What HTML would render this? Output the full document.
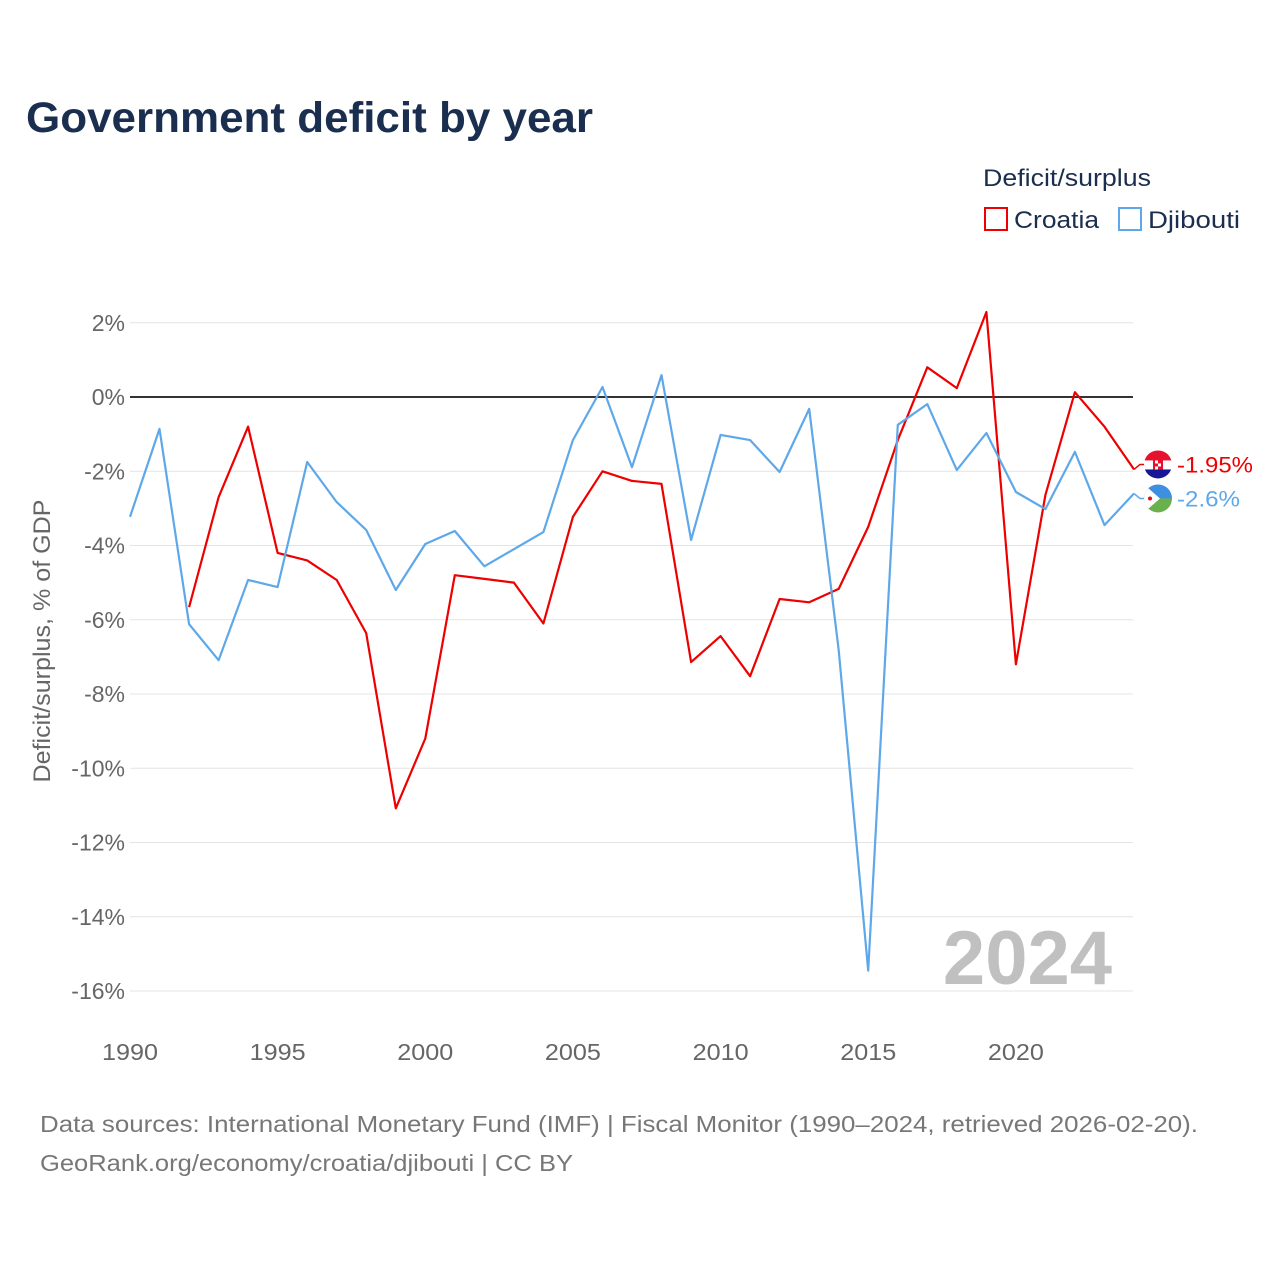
<!DOCTYPE html>
<html><head><meta charset="utf-8">
<style>
html,body{margin:0;padding:0;background:#fff;}
body{width:1280px;height:1280px;overflow:hidden;font-family:"Liberation Sans",sans-serif;}
</style></head>
<body>
<svg width="1280" height="1280" xmlns="http://www.w3.org/2000/svg" style="font-family:'Liberation Sans',sans-serif">
<defs>
<clipPath id="cf1"><circle cx="1158" cy="0" r="14" id="cc1"/></clipPath>
<clipPath id="cf2"><circle cx="1158" cy="0" r="14" id="cc2"/></clipPath>
</defs>
<text x="26" y="132" font-size="43" font-weight="bold" fill="#1a2e4f" textLength="567" lengthAdjust="spacingAndGlyphs">Government deficit by year</text>
<text x="983" y="186" font-size="24" fill="#1a2e4f" textLength="168" lengthAdjust="spacingAndGlyphs">Deficit/surplus</text>
<g><rect x="985" y="208" width="22" height="22" fill="none" stroke="#ee0000" stroke-width="2"/><text x="1014" y="228" font-size="24" fill="#1a2e4f" textLength="85" lengthAdjust="spacingAndGlyphs">Croatia</text></g>
<g><rect x="1119" y="208" width="22" height="22" fill="none" stroke="#5ea8ea" stroke-width="2"/><text x="1148" y="228" font-size="24" fill="#1a2e4f" textLength="92" lengthAdjust="spacingAndGlyphs">Djibouti</text></g>
<g id="grid"></g><g id="xt"></g><g id="lines"></g>
<text transform="translate(50,641) rotate(-90)" text-anchor="middle" font-size="24" fill="#666" textLength="283" lengthAdjust="spacingAndGlyphs">Deficit/surplus, % of GDP</text>
<text x="1112" y="984" text-anchor="end" font-size="76" font-weight="bold" fill="#c0c0c0">2024</text>
<text x="40" y="1132" font-size="23" fill="#777" textLength="1158" lengthAdjust="spacingAndGlyphs">Data sources: International Monetary Fund (IMF) | Fiscal Monitor (1990–2024, retrieved 2026-02-20).</text>
<text x="40" y="1171" font-size="23" fill="#777" textLength="533" lengthAdjust="spacingAndGlyphs">GeoRank.org/economy/croatia/djibouti | CC BY</text>
</svg>
<script>
const years=[];for(let y=1990;y<=2024;y++)years.push(y);
const croatia=[null,null,-5.66,-2.7,-0.8,-4.2,-4.4,-4.93,-6.36,-11.08,-9.2,-4.8,-4.9,-5.0,-6.1,-3.23,-2.0,-2.26,-2.34,-7.14,-6.44,-7.52,-5.44,-5.53,-5.17,-3.5,-1.16,0.8,0.24,2.29,-7.2,-2.64,0.13,-0.8,-1.95];
const djibouti=[-3.23,-0.86,-6.12,-7.09,-4.93,-5.12,-1.75,-2.83,-3.58,-5.2,-3.96,-3.61,-4.56,-4.1,-3.64,-1.16,0.27,-1.89,0.59,-3.85,-1.02,-1.16,-2.02,-0.32,-6.82,-15.45,-0.75,-0.19,-1.97,-0.97,-2.56,-3.02,-1.48,-3.45,-2.6];
const yTicks=[2,0,-2,-4,-6,-8,-10,-12,-14,-16];
const xTicks=[1990,1995,2000,2005,2010,2015,2020];
const NS="http://www.w3.org/2000/svg";
const X=y=>130+(y-1990)*(1134-130)/34;
const Y=v=>397-v*37.125;
function mk(t,a,p){const e=document.createElementNS(NS,t);for(const k in a)e.setAttribute(k,a[k]);p.appendChild(e);return e;}
const g=document.getElementById('grid');
yTicks.forEach(v=>{
 const l=mk('line',{x1:130,x2:1133,y1:Y(v),y2:Y(v),stroke:v===0?'#333':'#e4e4e4','stroke-width':v===0?2:1},g);
 
 
 const t=mk('text',{x:125,y:Y(v)+8,'text-anchor':'end','font-size':23,fill:'#666'},g);
 t.textContent=v+'%';
 
 
});
const xt=document.getElementById('xt');
xTicks.forEach(v=>{
 const t=mk('text',{x:X(v),y:1060,'text-anchor':'middle','font-size':23,fill:'#666',textLength:56,lengthAdjust:'spacingAndGlyphs'},xt);
 t.textContent=v;
 
 
});
const L=document.getElementById('lines');
// label layout: separate end labels if overlapping
let ya=Y(croatia[croatia.length-1]), yb=Y(djibouti[djibouti.length-1]);
let la=ya, lb=yb;
if(Math.abs(la-lb)<34){const m=(la+lb)/2;const s=la<lb?-1:1;la=m+s*17;lb=m-s*17;}
function series(vals,color,name,label,tl,clip,cc,cy){
 let d='';vals.forEach((v,i)=>{if(v===null)return;d+=(d?'L':'M')+X(years[i]).toFixed(1)+','+Y(v).toFixed(1);});
 const p=mk('path',{d:d,fill:'none',stroke:color,'stroke-width':2.2,'stroke-linejoin':'round'},L);
 
 
 const last=vals[vals.length-1];const py=Y(last);
 mk('polyline',{points:`1134,${py} 1140,${cy} 1146,${cy}`,fill:'none',stroke:color,'stroke-width':1.5},L);
 document.getElementById(cc).setAttribute('cy',cy);
 const f=mk('g',{'clip-path':'url(#'+clip+')'},L);
 
 
 if(name==='croatia'){
  mk('rect',{x:1144,y:cy-14,width:28,height:10,fill:'#e8112d'},f);
  mk('rect',{x:1144,y:cy-4,width:28,height:9,fill:'#fff'},f);
  mk('rect',{x:1144,y:cy+5,width:28,height:10,fill:'#171796'},f);
  mk('rect',{x:1153,y:cy-6,width:10,height:11,fill:'#e8112d'},f);
  mk('rect',{x:1155,y:cy-4,width:3,height:3,fill:'#fff'},f);
  mk('rect',{x:1158,y:cy-1,width:3,height:3,fill:'#fff'},f);
  mk('rect',{x:1155,y:cy+2,width:3,height:3,fill:'#fff'},f);
 }else{
  mk('rect',{x:1144,y:cy-14,width:28,height:14,fill:'#3d8fe0'},f);
  mk('rect',{x:1144,y:cy,width:28,height:15,fill:'#6ab04c'},f);
  mk('polygon',{points:`1144,${cy-14} 1160,${cy} 1144,${cy+14}`,fill:'#fff'},f);
  mk('circle',{cx:1150,cy:cy,r:2,fill:'#d7141a'},f);
 }
 const t=mk('text',{x:1177,y:cy+8,'font-size':22,fill:color,textLength:tl,lengthAdjust:'spacingAndGlyphs'},L);
 t.textContent=label;
 
 
}
series(croatia,'#ee0000','croatia','-1.95%',76,'cf1','cc1',la);
series(djibouti,'#5ea8ea','djibouti','-2.6%',63,'cf2','cc2',lb);
</script>
</body></html>
